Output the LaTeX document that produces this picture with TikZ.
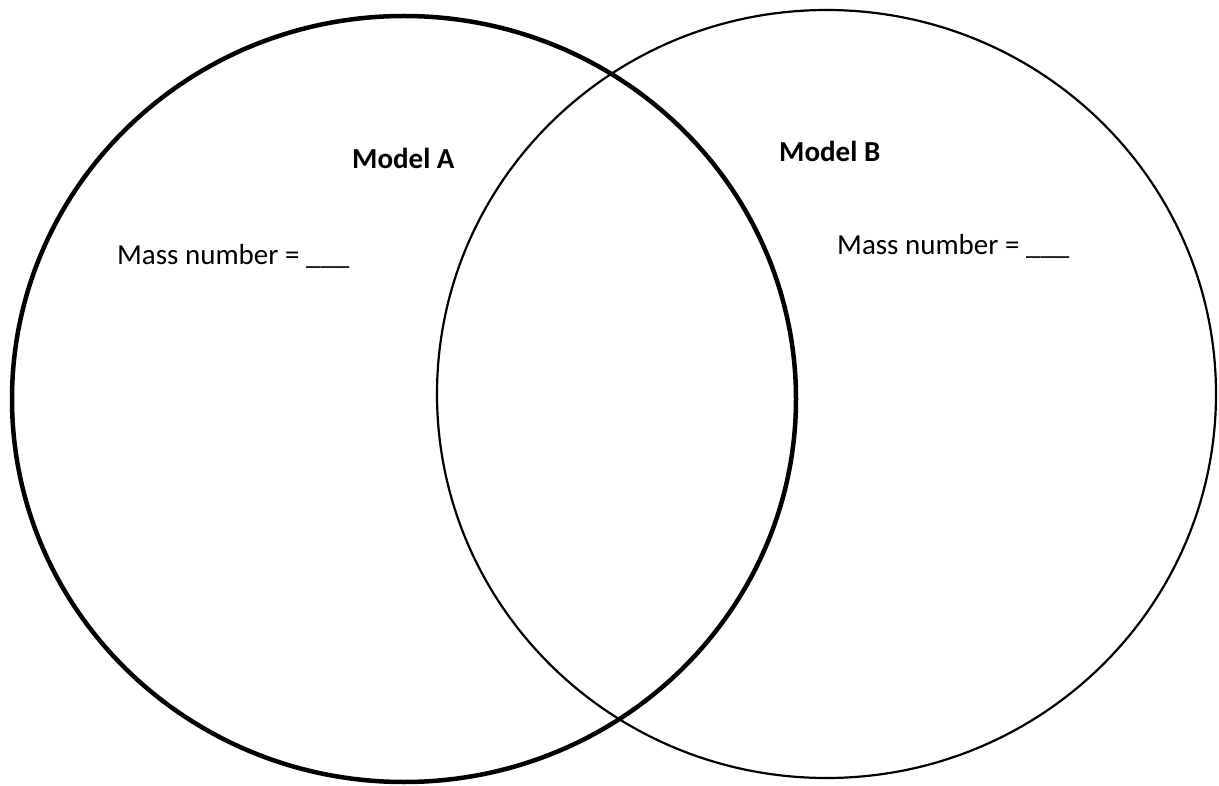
\documentclass[tikz,border=0pt]{standalone}
\usepackage{fontspec}
\setmainfont{Carlito}
\begin{document}
\begin{tikzpicture}[x=1pt,y=-1pt,
  lbl/.style={anchor=base west,inner sep=0pt,font=\fontsize{29}{33}\selectfont},
  ttl/.style={anchor=base west,inner sep=0pt,font=\fontsize{29}{33}\selectfont\bfseries}]
\useasboundingbox (0,0) rectangle (1219,786);
\draw[line width=4.5pt] (404,399) ellipse [x radius=392, y radius=383];
\draw[line width=2.2pt] (826.5,394) ellipse [x radius=389.5, y radius=384];
\node[ttl] (ma) at (352,169) {Model A};
\node[ttl] (mb) at (779,162) {Model B};
\node[lbl] (la) at (117,265) {Mass number = \_\_\_};
\node[lbl] (lb) at (837,255) {Mass number = \_\_\_};
\end{tikzpicture}
\end{document}
